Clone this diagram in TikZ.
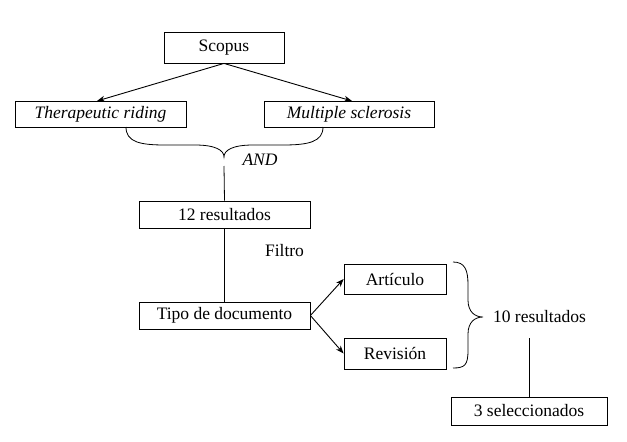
\documentclass[tikz,border=0pt]{standalone}
\usepackage{fontspec}
\setmainfont{Liberation Serif}
\usetikzlibrary{arrows.meta}
\begin{document}
\begin{tikzpicture}[x=1pt,y=-1pt,
  box/.style={draw, line width=0.8pt, inner sep=0pt, font=\fontsize{17.5}{20}\selectfont},
  lbl/.style={inner sep=0pt, font=\fontsize{17.5}{20}\selectfont},
  conn/.style={line width=0.8pt},
  arr/.style={line width=0.9pt, -{Stealth[length=8pt,width=6pt]}}]
\useasboundingbox (0,0) rectangle (627,442);
\fill[white] (0,0) rectangle (627,442);
\node[box, minimum width=120pt, minimum height=31pt] (scopus) at (224,47.5) {Scopus};
\node[box, minimum width=171pt, minimum height=26pt] (ther) at (100.5,114) {\itshape Therapeutic riding};
\node[box, minimum width=170pt, minimum height=26pt] (mult) at (349,114) {\itshape Multiple sclerosis};
\node[box, minimum width=171pt, minimum height=27pt] (res12) at (224.5,214.5) {12 resultados};
\node[box, minimum width=171pt, minimum height=27pt] (tipo) at (224.5,315.5) {Tipo de documento};
\node[box, minimum width=102pt, minimum height=30pt] (art) at (395,279) {Artículo};
\node[box, minimum width=102pt, minimum height=31pt] (rev) at (395,353.5) {Revisión};
\node[box, minimum width=156pt, minimum height=28pt] (sel) at (529,411) {3 seleccionados};
\node[lbl] (and) at (260,160) {\itshape AND};
\node[lbl] (filtro) at (284.5,251) {Filtro};
\node[lbl] (res10) at (539.5,317) {10 resultados};
\coordinate (bl) at (126,127);
\coordinate (br) at (323,127);
\coordinate (btip) at (224,157);
\coordinate (bline) at (224,166);
\coordinate (rt) at (453,262);
\coordinate (rb) at (453,368);
\coordinate (rtip) at (483,317);
\coordinate (rline) at (529,338);
\draw[arr] (scopus.south) -- (97,101);
\draw[arr] (scopus.south) -- (352,101);
\draw[conn] (bl) .. controls (126,142) and (140,145) .. (165,145) -- (195,145)
  .. controls (215,145) and (224,150) .. (btip)
  .. controls (224,150) and (233,145) .. (253,145) -- (283,145)
  .. controls (308,145) and (323,142) .. (br);
\draw[conn] (bline) -- (res12.north);
\draw[conn] (res12.south) -- (tipo.north);
\draw[arr] (tipo.east) -- (art.west);
\draw[arr] (tipo.east) -- (rev.west);
\draw[conn] (rt) .. controls (465,262) and (468,270) .. (468,285) -- (468,300)
  .. controls (468,312) and (475,317) .. (rtip)
  .. controls (475,317) and (468,322) .. (468,334) -- (468,350)
  .. controls (468,365) and (465,368) .. (rb);
\draw[conn] (rline) -- (sel.north);
\end{tikzpicture}
\end{document}
